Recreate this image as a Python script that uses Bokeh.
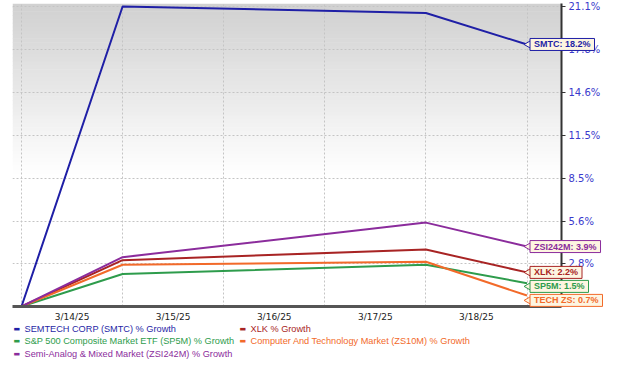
import math
import pandas as pd
from bokeh.plotting import figure
from bokeh.models import FixedTicker, BoxAnnotation, Range1d
from bokeh.core.properties import value
from bokeh.embed import file_html
from bokeh.resources import INLINE

# ---------------- data ----------------
dates = ["3/13/25", "3/14/25", "3/17/25", "3/18/25"]
tick_dates = ["3/14/25", "3/15/25", "3/16/25", "3/17/25", "3/18/25"]

smtc = [0.0, 21.1, 20.6, 18.2]
xlk = [0.0, 3.0, 3.7, 2.2]
sp5m = [0.0, 2.1, 2.7, 1.5]
zs10m = [0.0, 2.7, 2.9, 0.7]
zsi242m = [0.0, 3.2, 5.5, 3.9]

series_values = [smtc, xlk, sp5m, zs10m, zsi242m]
legend_names = [
    "SEMTECH CORP (SMTC) % Growth",
    "XLK % Growth",
    "S&P 500 Composite Market ETF (SP5M) % Growth",
    "Computer And Technology Market (ZS10M) % Growth",
    "Semi-Analog & Mixed Market (ZSI242M) % Growth",
]
callout_names = ["SMTC", "XLK", "SP5M", "TECH ZS", "ZSI242M"]
y_tick_labels = ["2.8%", "5.6%", "8.5%", "11.5%", "14.6%", "17.8%", "21.1%"]

# ---------------- style ----------------
colors = ["#1f1fa6", "#a82424", "#2e9c4c", "#f26a2a", "#8b2c9c"]
W, H = 620, 365
LEFT, RIGHT, TOP, BOTTOM = 12, 59, 3, 59
frame_w = W - LEFT - RIGHT
frame_h = H - TOP - BOTTOM
frame_bottom = TOP + frame_h
px_per_day = 101.1

base = pd.to_datetime(dates[0], format="%m/%d/%y")
x_days = [(pd.to_datetime(d, format="%m/%d/%y") - base).days for d in dates]
tick_x = [(pd.to_datetime(d, format="%m/%d/%y") - base).days - 0.5 for d in tick_dates]

x_start = -9 / px_per_day
x_end = x_start + frame_w / px_per_day
y_max_label = float(y_tick_labels[-1].rstrip("%"))
y_top = (1 + y_max_label / 100) ** (frame_h / (frame_h - 3))
ln_top = math.log(y_top)


def canvas_to_data(cx, cy):
    return (x_start + (cx - LEFT) / px_per_day,
            math.exp(ln_top * (frame_bottom - cy) / frame_h))


p = figure(width=W, height=H, title=None,
           x_range=Range1d(x_start, x_end), y_range=Range1d(1.0, y_top),
           y_axis_type="log", y_axis_location="right",
           output_backend="svg", toolbar_location=None,
           min_border_left=LEFT, min_border_right=RIGHT,
           min_border_top=TOP, min_border_bottom=BOTTOM)
p.outline_line_color = None
p.background_fill_color = "white"
p.border_fill_color = "white"

# gradient background (top of frame)
n_bands = 44
grad_px = 170
for i in range(n_bands):
    t0 = i * grad_px / n_bands
    t1 = (i + 1) * grad_px / n_bands + 0.6
    g = int(round(208 + 47 * (i + 0.5) / n_bands))
    top_v = math.exp(ln_top * (frame_h - t0) / frame_h)
    bot_v = math.exp(ln_top * (frame_h - t1) / frame_h)
    p.add_layout(BoxAnnotation(top=top_v, bottom=bot_v,
                               fill_color=f"#{g:02x}{g:02x}{g:02x}", fill_alpha=1.0,
                               line_color=None, level="image"))

# axes
y_ticks = [1 + float(s.rstrip("%")) / 100 for s in y_tick_labels]
ya = p.yaxis[0]
ya.ticker = FixedTicker(ticks=y_ticks)
ya.major_label_overrides = {t: s for t, s in zip(y_ticks, y_tick_labels)}
ya.axis_line_color = "#333333"
ya.axis_line_width = 2
ya.major_tick_line_color = "#333333"
ya.major_tick_out = 4
ya.major_tick_in = 0
ya.minor_tick_line_color = None
ya.major_label_standoff = 3
ya.major_label_text_color = "#3a3acc"
ya.major_label_text_font = "DejaVu Sans"
ya.major_label_text_font_size = "10px"

xa = p.xaxis[0]
xa.ticker = FixedTicker(ticks=tick_x)
xa.major_label_overrides = {t: s for t, s in zip(tick_x, tick_dates)}
xa.axis_line_color = "#555555"
xa.axis_line_width = 3
xa.major_tick_line_color = None
xa.major_tick_out = 0
xa.major_tick_in = 0
xa.minor_tick_line_color = None
xa.major_label_standoff = 5
xa.major_label_text_color = "#222222"
xa.major_label_text_font = "DejaVu Sans"
xa.major_label_text_font_size = "9px"

p.xgrid.ticker = FixedTicker(ticks=list(range(0, x_days[-1] + 1)))
for gr in (p.xgrid, p.ygrid):
    gr.grid_line_color = "#c4c4c4"
    gr.grid_line_dash = "2 2"
    gr.grid_line_width = 1

# lines
for vals, c in zip(series_values, colors):
    p.line(x_days, [1 + v / 100 for v in vals], line_color=c, line_width=2)

# callouts with collision avoidance
last = [(i, vals[-1]) for i, vals in enumerate(series_values)]
order = sorted(last, key=lambda t: -t[1])
prev = None
gap = 14
for i, v in order:
    py = frame_h * math.log(1 + v / 100) / ln_top
    py_new = py if prev is None or prev - py >= gap else prev - gap
    prev = py_new
    c = colors[i]
    y_shift_val = math.exp(ln_top * py_new / frame_h)
    p.scatter([x_days[-1] + 4 / px_per_day], [y_shift_val], marker="triangle",
              angle=math.pi / 2, size=12, fill_color="#fdf5e1", line_color=c,
              line_width=1, level="overlay")
    p.text(x=[x_days[-1]], y=[y_shift_val], text=[f"{callout_names[i]}: {v:.1f}%"],
           x_offset=3, text_align="left", text_baseline="middle",
           text_font=value("Liberation Sans"), text_font_style="bold",
           text_font_size="9px", text_color=c,
           background_fill_color="#fdf5e1", background_fill_alpha=1.0,
           border_line_color=c, border_line_width=1,
           padding=dict(left=4, right=4, top=1, bottom=1),
           level="overlay")

# legend (two columns, row-major)
row_cy = [328, 340.5, 353]
col_cx = [13, 239]
for i, name in enumerate(legend_names):
    r, cidx = i // 2, i % 2
    dx, dy = canvas_to_data(col_cx[cidx], row_cy[r])
    tx, _ = canvas_to_data(col_cx[cidx] + 11, row_cy[r])
    p.text(x=[dx], y=[dy], text=["▬"], text_font=value("DejaVu Sans"),
           text_font_size="7px", text_color=colors[i],
           text_baseline="middle", text_align="left", level="overlay")
    p.text(x=[tx], y=[dy], text=[name], text_font=value("Liberation Sans"),
           text_font_size="9.2px", text_color=colors[i],
           text_baseline="middle", text_align="left", level="overlay")

open("out.html", "w").write(file_html(p, INLINE))
